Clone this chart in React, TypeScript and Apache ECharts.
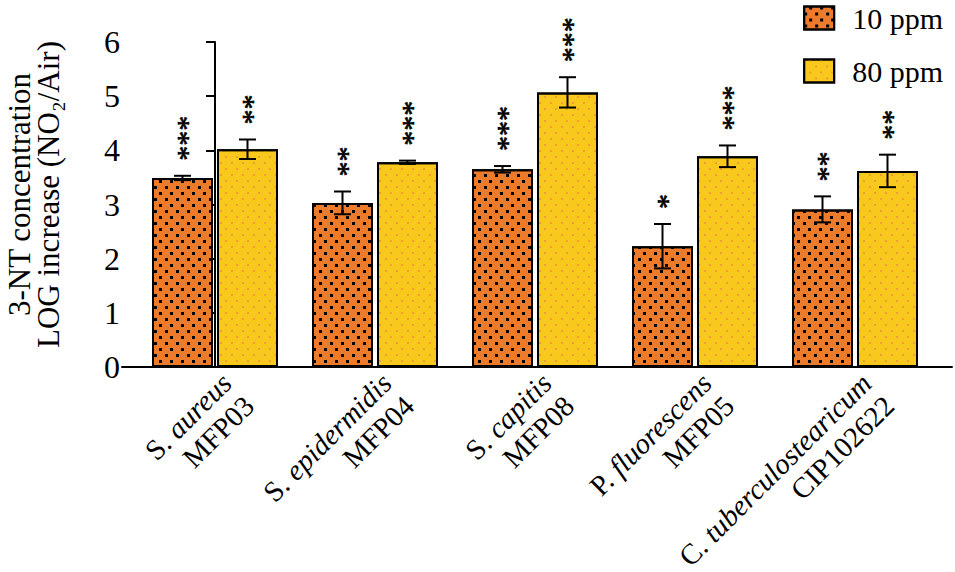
import React, { useEffect, useRef } from "react";
import * as echarts from "echarts";

const genus = ["S.", "S.", "S.", "P.", "C."];
const species = ["aureus", "epidermidis", "capitis", "fluorescens", "tuberculostearicum"];
const strains = ["MFP03", "MFP04", "MFP08", "MFP05", "CIP102622"];
const categoryIndex = [0, 1, 2, 3, 4];

const seriesNames = ["10 ppm", "80 ppm"];
const values10 = [3.49, 3.03, 3.65, 2.23, 2.91];
const errors10 = [0.04, 0.21, 0.06, 0.41, 0.24];
const stars10 = [3, 2, 3, 1, 2];
const values80 = [4.02, 3.78, 5.07, 3.89, 3.62];
const errors80 = [0.18, 0.03, 0.28, 0.2, 0.3];
const stars80 = [2, 3, 3, 3, 2];

const yTicks = { min: 0, max: 6, interval: 1 };

const FONT = "'Liberation Serif', 'Times New Roman', serif";
const BAR_W = 61;
const BAR_GAP = 4;
const BAR_OFFSET = (BAR_W + BAR_GAP) / 2;

function errorSeries(vals: number[], errs: number[], stars: number[], side: number) {
  return {
    type: "custom",
    z: 5,
    silent: true,
    data: vals.map((v, i) => [categoryIndex[i], v, errs[i], stars[i]]),
    encode: { x: 0, y: 1 },
    renderItem: (params: any, api: any) => {
      const x = api.value(0);
      const v = api.value(1);
      const e = api.value(2);
      const s = api.value(3);
      const top = api.coord([x, v + e]);
      const bot = api.coord([x, v - e]);
      const cx = top[0] + side * BAR_OFFSET;
      const cap = 8.5;
      const ls = { stroke: "#000", lineWidth: 2 };
      const starText = new Array(s).fill("*").join("");
      return {
        type: "group",
        children: [
          { type: "line", shape: { x1: cx, y1: top[1], x2: cx, y2: bot[1] }, style: ls },
          { type: "line", shape: { x1: cx - cap, y1: top[1], x2: cx + cap, y2: top[1] }, style: ls },
          { type: "line", shape: { x1: cx - cap, y1: bot[1], x2: cx + cap, y2: bot[1] }, style: ls },
          {
            type: "text",
            x: cx + 4,
            y: top[1] - 15,
            rotation: Math.PI / 2,
            style: {
              text: starText,
              fontSize: 30,
              fontFamily: FONT,
              align: "left",
              verticalAlign: "middle",
              fill: "#000",
              stroke: "#000",
              lineWidth: 0.6,
            },
          },
        ],
      };
    },
  };
}

export default function App() {
  const ref = useRef<HTMLDivElement>(null);
  useEffect(() => {
    if (!ref.current) return;
    const chart = echarts.init(ref.current, undefined, { renderer: "svg" });
    const tok = (extra: any) => ({ fontSize: 29, fontFamily: FONT, lineHeight: 32, color: "#000", ...extra });
    chart.setOption({
      animation: false,
      backgroundColor: "#fff",
      grid: { left: 122, right: 3, top: 42, bottom: 205, outerBoundsMode: "none", containLabel: false },
      legend: {
        data: seriesNames,
        orient: "vertical",
        right: 12,
        top: 3,
        padding: 0,
        icon: "rect",
        itemWidth: 30,
        itemHeight: 23,
        itemGap: 23,
        textStyle: { fontSize: 30, fontFamily: FONT, color: "#000", padding: [0, 0, 0, 13] },
      },
      xAxis: {
        type: "value",
        min: -0.58125,
        max: 4.60625,
        axisLine: { show: true, lineStyle: { color: "#000", width: 2 } },
        axisTick: { show: false },
        splitLine: { show: false },
        axisLabel: {
          customValues: categoryIndex,
          rotate: 45,
          align: "right",
          verticalAlign: "top",
          margin: 0,
          fontSize: 29,
          fontFamily: FONT,
          lineHeight: 32,
          color: "#000",
          formatter: (v: number) => {
            const i = Math.round(v);
            return `{n|${genus[i]} }{i|${species[i]}}\n{n|${strains[i]}}`;
          },
          rich: {
            n: tok({ fontStyle: "normal" }),
            i: tok({ fontStyle: "italic" }),
          },
        },
      },
      yAxis: {
        type: "value",
        min: yTicks.min,
        max: yTicks.max,
        interval: yTicks.interval,
        axisLine: { show: true, lineStyle: { color: "#000", width: 2 } },
        axisTick: { show: true, length: 9, lineStyle: { color: "#000", width: 2 } },
        splitLine: { show: false },
        axisLabel: { fontSize: 32, fontFamily: FONT, color: "#000", margin: 2 },
        name: "3-NT concentration\nLOG increase (NO₂/Air)",
        nameLocation: "middle",
        nameRotate: 90,
        nameGap: 59,
        nameTextStyle: { fontSize: 31, fontFamily: FONT, color: "#000", lineHeight: 29, padding: [0, 0, 0, 20] },
      },
      series: [
        {
          name: seriesNames[0],
          type: "bar",
          barWidth: BAR_W,
          barGap: (BAR_GAP / BAR_W) * 100 + "%",
          data: values10.map((v, i) => [categoryIndex[i], v]),
          itemStyle: {
            color: "#EC7B2C",
            borderColor: "#000",
            borderWidth: 2,
            decal: {
              symbol: "rect",
              symbolSize: 1,
              color: "#000",
              dashArrayX: [[3, 8], [0, 5, 3, 3]],
              dashArrayY: [3, 3],
            },
          },
        },
        {
          name: seriesNames[1],
          type: "bar",
          barWidth: BAR_W,
          barGap: (BAR_GAP / BAR_W) * 100 + "%",
          data: values80.map((v, i) => [categoryIndex[i], v]),
          itemStyle: {
            color: "#F8C81C",
            borderColor: "#000",
            borderWidth: 2,
            decal: {
              symbol: "rect",
              symbolSize: 1,
              color: "#EE9E36",
              dashArrayX: [[2, 9], [0, 5, 2, 4]],
              dashArrayY: [2, 4],
            },
          },
        },
        errorSeries(values10, errors10, stars10, -1),
        errorSeries(values80, errors80, stars80, 1),
      ],
    });
    return () => chart.dispose();
  }, []);
  return <div ref={ref} style={{ position: "fixed", left: 0, top: 0, width: 955, height: 572 }} />;
}
